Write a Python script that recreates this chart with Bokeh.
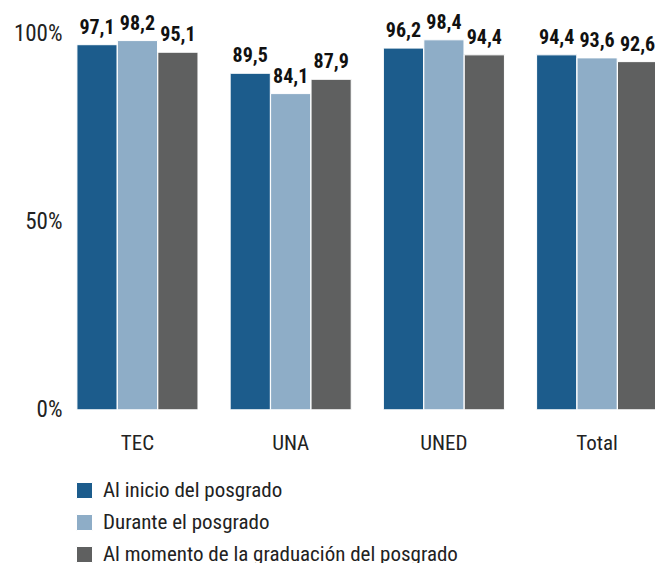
from bokeh.plotting import figure
from bokeh.models import Range1d, FixedTicker, Legend, LegendItem, ColumnDataSource
from bokeh.transform import dodge
from bokeh.core.properties import value
from bokeh.embed import file_html
from bokeh.resources import INLINE

categories = ["TEC", "UNA", "UNED", "Total"]
series_names = ["Al inicio del posgrado", "Durante el posgrado",
                "Al momento de la graduación del posgrado"]
inicio = [97.1, 89.5, 96.2, 94.4]
durante = [98.2, 84.1, 98.4, 93.6]
graduacion = [95.1, 87.9, 94.4, 92.6]
y_ticks = [0, 50, 100]
y_tick_labels = ["0%", "50%", "100%"]
colors = ["#1c5c8c", "#8eadc7", "#5f6060"]

FONT = "Roboto Condensed"

def fmt(v):
    return f"{v:.1f}".replace(".", ",")

xs = list(range(len(categories)))
src = ColumnDataSource(dict(
    x=xs,
    inicio=inicio, durante=durante, graduacion=graduacion,
    l_inicio=[fmt(v) for v in inicio],
    l_durante=[fmt(v) for v in durante],
    l_graduacion=[fmt(v) for v in graduacion],
))

p = figure(width=655, height=563, output_backend="svg", toolbar_location=None,
           x_range=Range1d(-0.437, 3.381), y_range=Range1d(-40.88, 108.86),
           min_border_left=70, min_border_right=0, min_border_top=0,
           min_border_bottom=0)
p.outline_line_color = None
p.xgrid.visible = False
p.ygrid.visible = False
p.background_fill_color = "white"
p.border_fill_color = "white"

offsets = [-0.264, 0.0, 0.264]
fields = ["inicio", "durante", "graduacion"]
lfields = ["l_inicio", "l_durante", "l_graduacion"]
items = []
for off, f, lf, c, name in zip(offsets, fields, lfields, colors, series_names):
    r = p.vbar(x=dodge("x", off), top=f, bottom=0, width=0.262, source=src,
               fill_color=c, line_color="white", line_width=1)
    p.text(x=dodge("x", off), y=f, text=lf, source=src,
           text_font=value(FONT), text_font_style="bold",
           text_font_size="20px", text_color="#111111",
           text_align="center", text_baseline="bottom", y_offset=-11)
    items.append(LegendItem(label=name, renderers=[r]))

# axes
p.yaxis.ticker = FixedTicker(ticks=y_ticks)
p.yaxis.major_label_overrides = {t: l for t, l in zip(y_ticks, y_tick_labels)}
p.yaxis.axis_line_color = None
p.yaxis.major_tick_line_color = None
p.yaxis.minor_tick_line_color = None
p.yaxis.major_tick_out = 0
p.yaxis.major_tick_in = 0
p.yaxis.major_label_standoff = 8
p.yaxis.major_label_text_font = FONT
p.yaxis.major_label_text_font_size = "23px"
p.yaxis.major_label_text_color = "#222222"

p.xaxis.fixed_location = 0
p.xaxis.ticker = FixedTicker(ticks=xs)
p.xaxis.major_label_overrides = {i: c for i, c in zip(xs, categories)}
p.xaxis.axis_line_color = None
p.xaxis.major_tick_line_color = None
p.xaxis.minor_tick_line_color = None
p.xaxis.major_tick_out = 0
p.xaxis.major_tick_in = 0
p.xaxis.major_label_standoff = 21
p.xaxis.major_label_text_font = FONT
p.xaxis.major_label_text_font_size = "21px"
p.xaxis.major_label_text_color = "#222222"

legend = Legend(items=items, location=(4, -3), orientation="vertical")
legend.label_text_font = FONT
legend.label_text_font_size = "21px"
legend.label_text_color = "#222222"
legend.glyph_width = 20
legend.glyph_height = 20
legend.label_standoff = 9
legend.label_height = 23
legend.spacing = 8
legend.padding = 0
legend.margin = 0
legend.border_line_color = None
legend.background_fill_alpha = 0
p.add_layout(legend)

open("out.html", "w").write(file_html(p, INLINE))
